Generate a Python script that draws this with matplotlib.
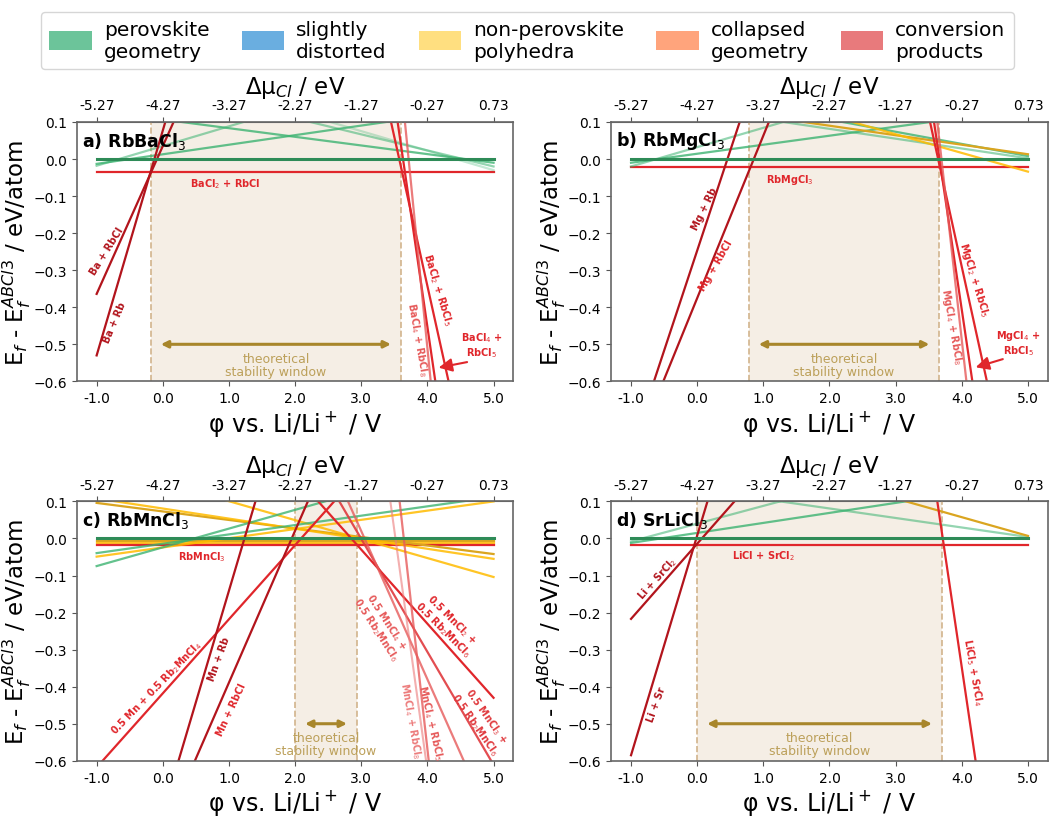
import numpy as np
import matplotlib.pyplot as plt
from matplotlib.patches import Patch

# phi range (V vs Li/Li+) spanned by every line; top axis is delta mu_Cl = phi - 4.27
phi_range = [-1.0, 5.0]
mu_offset = 4.27
phi_ticks = [-1.0, 0.0, 1.0, 2.0, 3.0, 4.0, 5.0]
phi_ticklabels = ['-1.0', '0.0', '1.0', '2.0', '3.0', '4.0', '5.0']
mu_ticklabels = ['-5.27', '-4.27', '-3.27', '-2.27', '-1.27', '-0.27', '0.73']

legend_labels = ['perovskite\ngeometry', 'slightly\ndistorted', 'non-perovskite\npolyhedra',
                 'collapsed\ngeometry', 'conversion\nproducts']
legend_colors = ['#6cc49a', '#6aaee0', '#ffdf80', '#ffa47c', '#e87a7c']

titles = ['a) RbBaCl$_3$', 'b) RbMgCl$_3$', 'c) RbMnCl$_3$', 'd) SrLiCl$_3$']

# formation energy relative to ABCl3 (eV/atom) at phi = -1 and phi = 5
a_start = [0.0, -0.035, -0.013, -0.018, 0.130, 0.240, 0.286, -0.364, -0.530, 3.680, 5.688, 8.465]
a_end = [0.0, -0.035, 0.142, 0.301, -0.010, -0.020, -0.030, 2.030, 3.112, -1.147, -1.681, -2.305]
a_kind = ['ref', 'conv', 'g1', 'g2', 'g1', 'g2', 'g3', 'dark', 'dark', 'conv', 'conv', 'pink']
a_window = (-0.18, 3.60)

b_start = [0.0, -0.0225, -0.010, -0.020, 0.161, 0.205, 0.167, 0.269, -0.787, -0.814, 3.779, 5.628, 7.466]
b_end = [0.0, -0.0225, 0.136, 0.293, 0.002, 0.008, 0.013, -0.034, 2.453, 1.818, -1.105, -1.614, -2.080]
b_kind = ['ref', 'conv', 'g1', 'g2', 'g2', 'g1', 'o1', 'o2', 'dark', 'dark', 'conv', 'conv', 'pink']
b_window = (0.78, 3.66)

c_start = [0.0, -0.007, -0.012, -0.018, 0.096, 0.108, 0.203, -0.049, -0.0745, -0.0395,
           -0.618, -1.345, -1.209, 0.770, 1.219, 1.620, 5.855, 7.387]
c_end = [0.0, -0.007, -0.012, -0.018, -0.042, -0.055, -0.104, 0.100, 0.229, 0.112,
         0.582, 2.267, 1.251, -0.430, -0.611, -0.780, -1.922, -2.159]
c_kind = ['ref', 'o1', 'o2', 'conv', 'o1', 'o2', 'o2', 'o2', 'g1', 'g1',
          'conv', 'dark', 'dark', 'conv', 'red2', 'pink', 'light', 'pink']
c_window = (2.00, 2.935)

d_start = [0.0, -0.017, -0.012, -0.008, 0.158, 0.310, -0.217, -0.585, 5.702]
d_end = [0.0, -0.017, 0.150, 0.280, 0.004, 0.007, 1.000, 2.973, -1.558]
d_kind = ['ref', 'conv', 'g1', 'g2', 'g2', 'o1', 'dark', 'dark', 'conv']
d_window = (0.0, 3.70)

# line labels: text, phi, energy, rotation, colour key
a_labels = [('Ba + RbCl', -0.84, -0.247, 58, 'dark'),
            ('Ba + Rb', -0.72, -0.44, 67, 'dark'),
            ('BaCl$_2$ + RbCl', 0.94, -0.065, 0, 'conv'),
            ('BaCl$_2$ + RbCl$_5$', 4.15, -0.35, -73, 'conv'),
            ('BaCl$_4$ + RbCl$_8$', 3.85, -0.485, -80, 'pink')]
# callout: text, text position, arrow tail, arrow tip
a_callout = ('BaCl$_4$ +\nRbCl$_5$', (4.82, -0.50), (4.60, -0.548), (4.17, -0.563))

b_labels = [('Mg + Rb', 0.115, -0.132, 64, 'dark'),
            ('Mg + RbCl', 0.29, -0.285, 60, 'conv'),
            ('RbMgCl$_3$', 1.40, -0.055, 0, 'conv'),
            ('MgCl$_2$ + RbCl$_5$', 4.18, -0.325, -73, 'conv'),
            ('MgCl$_4$ + RbCl$_8$', 3.84, -0.45, -80, 'pink')]
b_callout = ('MgCl$_4$ +\nRbCl$_5$', (4.85, -0.495), (4.62, -0.540), (4.21, -0.562))

c_labels = [('0.5 Mn + 0.5 Rb$_2$MnCl$_4$', -0.09, -0.40, 46, 'conv'),
            ('Mn + Rb', 0.855, -0.324, 70, 'dark'),
            ('Mn + RbCl', 1.04, -0.459, 65, 'conv'),
            ('RbMnCl$_3$', 0.59, -0.048, 0, 'conv'),
            ('0.5 MnCl$_4$ +\n0.5 Rb$_2$MnCl$_6$', 3.30, -0.234, -57, 'pink'),
            ('0.5 MnCl$_2$ +\n0.5 Rb$_2$MnCl$_6$', 4.30, -0.23, -45, 'conv'),
            ('MnCl$_4$ + RbCl$_8$', 3.75, -0.49, -80, 'light'),
            ('MnCl$_4$ + RbCl$_5$', 4.05, -0.495, -77, 'pink'),
            ('0.5 MnCl$_3$ +\n0.5 Rb$_2$MnCl$_6$', 4.80, -0.49, -55, 'red2')]
c_callout = None

d_labels = [('Li + SrCl$_2$', -0.60, -0.105, 48, 'dark'),
            ('Li + Sr', -0.61, -0.446, 70, 'dark'),
            ('LiCl + SrCl$_2$', 1.0, -0.045, 0, 'conv'),
            ('LiCl$_5$ + SrCl$_4$', 4.16, -0.36, -80, 'conv')]
d_callout = None

line_styles = {
    'ref': ('#2e8b57', 1.0, 2.2),
    'g1': ('#3cb371', 0.8, 1.6),
    'g2': ('#3cb371', 0.55, 1.6),
    'g3': ('#3cb371', 0.3, 1.6),
    'o1': ('#daa520', 1.0, 1.6),
    'o2': ('#ffbb00', 0.85, 1.6),
    'dark': ('#b2141c', 1.0, 1.6),
    'conv': ('#e0262b', 1.0, 1.6),
    'red2': ('#e03a3e', 0.9, 1.6),
    'pink': ('#e65a5a', 0.8, 1.6),
    'light': ('#ec7a7a', 0.6, 1.5),
}


def draw_panel(ax, title, starts, ends, kinds, window, labels, callout):
    for s, e, k in zip(starts, ends, kinds):
        c, a, lw = line_styles[k]
        ax.plot(phi_range, [s, e], color=c, alpha=a, lw=lw, zorder=3 if k == 'ref' else 2)
    lo, hi = window
    ax.axvspan(lo, hi, color='#d2b48c', alpha=0.22, lw=0, zorder=0)
    for x in window:
        ax.axvline(x, color='#d2b48c', ls='--', lw=1.2, zorder=1)
    ax.annotate('', xy=(hi - 0.15, -0.5), xytext=(lo + 0.15, -0.5),
                arrowprops=dict(arrowstyle='<|-|>', color='#a8862b', lw=2.2,
                                mutation_scale=10, shrinkA=0, shrinkB=0))
    ax.text((lo + hi) / 2, -0.556, 'theoretical\nstability window', ha='center', va='center',
            color='#bca05a', fontsize=9, linespacing=1.0)

    for txt, x, y, rot, k in labels:
        ax.text(x, y, txt, rotation=rot, ha='center', va='center', color=line_styles[k][0],
                fontsize=7, fontweight='bold', linespacing=1.0)
    if callout:
        txt, xy_text, xy_tail, xy_tip = callout
        red = line_styles['conv'][0]
        ax.text(*xy_text, txt, ha='center', va='center', color=red, fontsize=7,
                fontweight='bold', linespacing=1.1)
        ax.annotate('', xy=xy_tip, xytext=xy_tail,
                    arrowprops=dict(arrowstyle='-|>', color=red, lw=1.5,
                                    mutation_scale=20, shrinkA=0, shrinkB=0))

    ax.text(0.012, 0.93, title, transform=ax.transAxes, ha='left', va='center',
            fontsize=12.5, fontweight='bold')
    ax.set_xlim(-1.3, 5.3)
    ax.set_ylim(-0.6, 0.1)
    ax.set_xticks(phi_ticks)
    ax.set_xticklabels(phi_ticklabels)
    ax.set_yticks(np.round(np.arange(-0.6, 0.11, 0.1), 1))
    ax.tick_params(labelsize=10, color='#555555')
    ax.set_xlabel('φ vs. Li/Li$^+$ / V', fontsize=17, labelpad=2)
    ax.set_ylabel('E$_f$ - E$_f^{ABCl3}$ / eV/atom', fontsize=16.5, labelpad=0)
    for sp in ax.spines.values():
        sp.set_color('#666666')
        sp.set_linewidth(1.2)

    secax = ax.secondary_xaxis('top', functions=(lambda p: p - mu_offset, lambda m: m + mu_offset))
    secax.set_xticks([p - mu_offset for p in phi_ticks])
    secax.set_xticklabels(mu_ticklabels)
    secax.tick_params(labelsize=10, color='#555555')
    secax.spines['top'].set_color('#666666')
    secax.set_xlabel('Δμ$_{Cl}$ / eV', fontsize=16.5, labelpad=4)


fig = plt.figure(figsize=(10.52, 8.2), dpi=100)
axes = fig.subplots(2, 2)
fig.subplots_adjust(left=0.073, right=0.996, top=0.85, bottom=0.071, wspace=0.224, hspace=0.463)

draw_panel(axes[0, 0], titles[0], a_start, a_end, a_kind, a_window, a_labels, a_callout)
draw_panel(axes[0, 1], titles[1], b_start, b_end, b_kind, b_window, b_labels, b_callout)
draw_panel(axes[1, 0], titles[2], c_start, c_end, c_kind, c_window, c_labels, c_callout)
draw_panel(axes[1, 1], titles[3], d_start, d_end, d_kind, d_window, d_labels, d_callout)

handles = [Patch(facecolor=c, edgecolor='none') for c in legend_colors]
fig.legend(handles, legend_labels, loc='upper center', bbox_to_anchor=(0.5014, 0.997), ncol=5,
           fontsize=14.5, handlelength=2.1, handleheight=1.1, handletextpad=0.6,
           columnspacing=1.6, labelspacing=0.3, frameon=True, edgecolor='#cccccc')

fig.savefig('out.png', dpi=100)
